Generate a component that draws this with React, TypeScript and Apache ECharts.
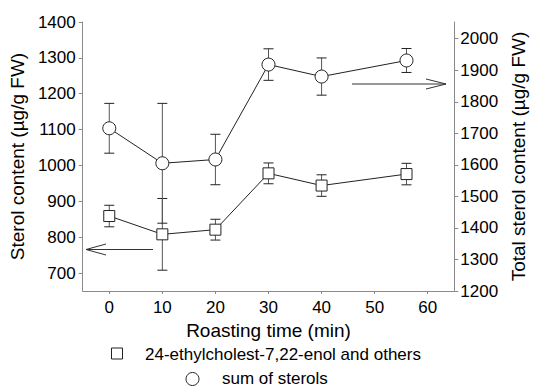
import React, { useEffect, useRef } from "react";
import * as echarts from "echarts";

const times = [0, 10, 20, 30, 40, 56];
const ethylName = "24-ethylcholest-7,22-enol and others";
const ethylValues = [859, 808, 821, 978, 944, 976];
const ethylErrors = [30, 100, 29, 29, 30, 30];
const sumName = "sum of sterols";
const sumValues = [1716, 1605, 1617, 1918, 1880, 1931];
const sumErrors = [79, 190, 80, 50, 59, 38];
const xTicks = [0, 10, 20, 30, 40, 50, 60];
const leftTicks = [700, 800, 900, 1000, 1100, 1200, 1300, 1400];
const rightTicks = [1200, 1300, 1400, 1500, 1600, 1700, 1800, 1900, 2000];

const FONT = "Liberation Sans, Arial, sans-serif";
const AXIS = "#8a8a8a";
const INK = "#222";
const plain = (v: number) => String(v);

function errorRender(params: any, api: any) {
  const x = api.value(0);
  const lo = api.value(1);
  const hi = api.value(2);
  const p1 = api.coord([x, hi]);
  const p2 = api.coord([x, lo]);
  const w = 5;
  const st = { stroke: "#555", lineWidth: 1 };
  return {
    type: "group",
    children: [
      { type: "line", shape: { x1: p1[0], y1: p1[1], x2: p2[0], y2: p2[1] }, style: st },
      { type: "line", shape: { x1: p1[0] - w, y1: p1[1], x2: p1[0] + w, y2: p1[1] }, style: { stroke: INK, lineWidth: 1 } },
      { type: "line", shape: { x1: p2[0] - w, y1: p2[1], x2: p2[0] + w, y2: p2[1] }, style: { stroke: INK, lineWidth: 1 } },
    ],
  };
}

export default function App() {
  const ref = useRef<HTMLDivElement>(null);
  useEffect(() => {
    if (!ref.current) return;
    const chart = echarts.init(ref.current, undefined, { renderer: "svg" });
    const tickLabel = { color: "#000", fontSize: 17, fontFamily: FONT, formatter: plain };
    const nameStyle = { color: "#000", fontSize: 19, fontFamily: FONT };
    chart.setOption({
      animation: false,
      grid: { left: 78, right: 73, top: 22, bottom: 95, containLabel: false },
      xAxis: {
        type: "value",
        min: -5,
        max: 65,
        name: "Roasting time (min)",
        nameLocation: "middle",
        nameGap: 25,
        nameTextStyle: { ...nameStyle, verticalAlign: "top" },
        axisLine: { onZero: false, lineStyle: { color: AXIS, width: 1 } },
        axisTick: { show: true, length: 3, customValues: xTicks, lineStyle: { color: AXIS } },
        axisLabel: { ...tickLabel, margin: 8, customValues: xTicks },
        splitLine: { show: false },
      },
      yAxis: [
        {
          type: "value",
          min: 650,
          max: 1400,
          position: "left",
          name: "Sterol content (µg/g FW)",
          nameLocation: "middle",
          nameRotate: 90,
          nameGap: 47,
          nameTextStyle: nameStyle,
          axisLine: { show: true, onZero: false, lineStyle: { color: AXIS, width: 1 } },
          axisTick: { show: true, length: 4, customValues: leftTicks, lineStyle: { color: AXIS } },
          axisLabel: { ...tickLabel, margin: 7, customValues: leftTicks },
          splitLine: { show: false },
        },
        {
          type: "value",
          min: 1200,
          max: 2053,
          position: "right",
          name: "Total sterol content (µg/g FW)",
          nameLocation: "middle",
          nameRotate: 90,
          nameGap: 49,
          nameTextStyle: nameStyle,
          axisLine: { show: true, onZero: false, lineStyle: { color: AXIS, width: 1 } },
          axisTick: { show: true, length: 4, customValues: rightTicks, lineStyle: { color: AXIS } },
          axisLabel: { ...tickLabel, margin: 6, customValues: rightTicks },
          splitLine: { show: false },
        },
      ],
      series: [
        {
          type: "custom",
          name: "ethylErr",
          yAxisIndex: 0,
          renderItem: errorRender,
          encode: { x: 0, y: [1, 2] },
          data: times.map((t, i) => [t, ethylValues[i] - ethylErrors[i], ethylValues[i] + ethylErrors[i]]),
          z: 1,
        },
        {
          type: "custom",
          name: "sumErr",
          yAxisIndex: 1,
          renderItem: errorRender,
          encode: { x: 0, y: [1, 2] },
          data: times.map((t, i) => [t, sumValues[i] - sumErrors[i], sumValues[i] + sumErrors[i]]),
          z: 1,
        },
        {
          type: "line",
          name: ethylName,
          yAxisIndex: 0,
          data: times.map((t, i) => [t, ethylValues[i]]),
          symbol: "rect",
          symbolSize: 11,
          lineStyle: { color: INK, width: 1 },
          itemStyle: { color: "#fff", borderColor: INK, borderWidth: 1 },
          z: 3,
        },
        {
          type: "line",
          name: sumName,
          yAxisIndex: 1,
          data: times.map((t, i) => [t, sumValues[i]]),
          symbol: "circle",
          symbolSize: 13,
          lineStyle: { color: INK, width: 1 },
          itemStyle: { color: "#fff", borderColor: INK, borderWidth: 1 },
          z: 3,
        },
      ],
      graphic: [
        { type: "line", shape: { x1: 153, y1: 249.5, x2: 86, y2: 249.5 }, style: { stroke: "#333", lineWidth: 1 } },
        { type: "polyline", shape: { points: [[106, 244], [86, 249.5], [106, 255]] }, style: { stroke: "#333", lineWidth: 1, fill: null } },
        { type: "line", shape: { x1: 352, y1: 84, x2: 446, y2: 84 }, style: { stroke: "#333", lineWidth: 1 } },
        { type: "polyline", shape: { points: [[426, 79], [446, 84], [426, 89]] }, style: { stroke: "#333", lineWidth: 1, fill: null } },
        { type: "rect", shape: { x: 111.5, y: 348, width: 11, height: 11 }, style: { fill: "#fff", stroke: INK, lineWidth: 1 } },
        { type: "text", x: 145, y: 354, style: { text: ethylName, fill: "#000", fontSize: 17, fontFamily: FONT, verticalAlign: "middle", align: "left" } },
        { type: "circle", shape: { cx: 192.5, cy: 379, r: 6.5 }, style: { fill: "#fff", stroke: INK, lineWidth: 1 } },
        { type: "text", x: 222, y: 378, style: { text: sumName, fill: "#000", fontSize: 17, fontFamily: FONT, verticalAlign: "middle", align: "left" } },
      ],
    });
    return () => chart.dispose();
  }, []);
  return <div ref={ref} style={{ width: 536, height: 386, position: "absolute", left: 0, top: 0 }} />;
}
